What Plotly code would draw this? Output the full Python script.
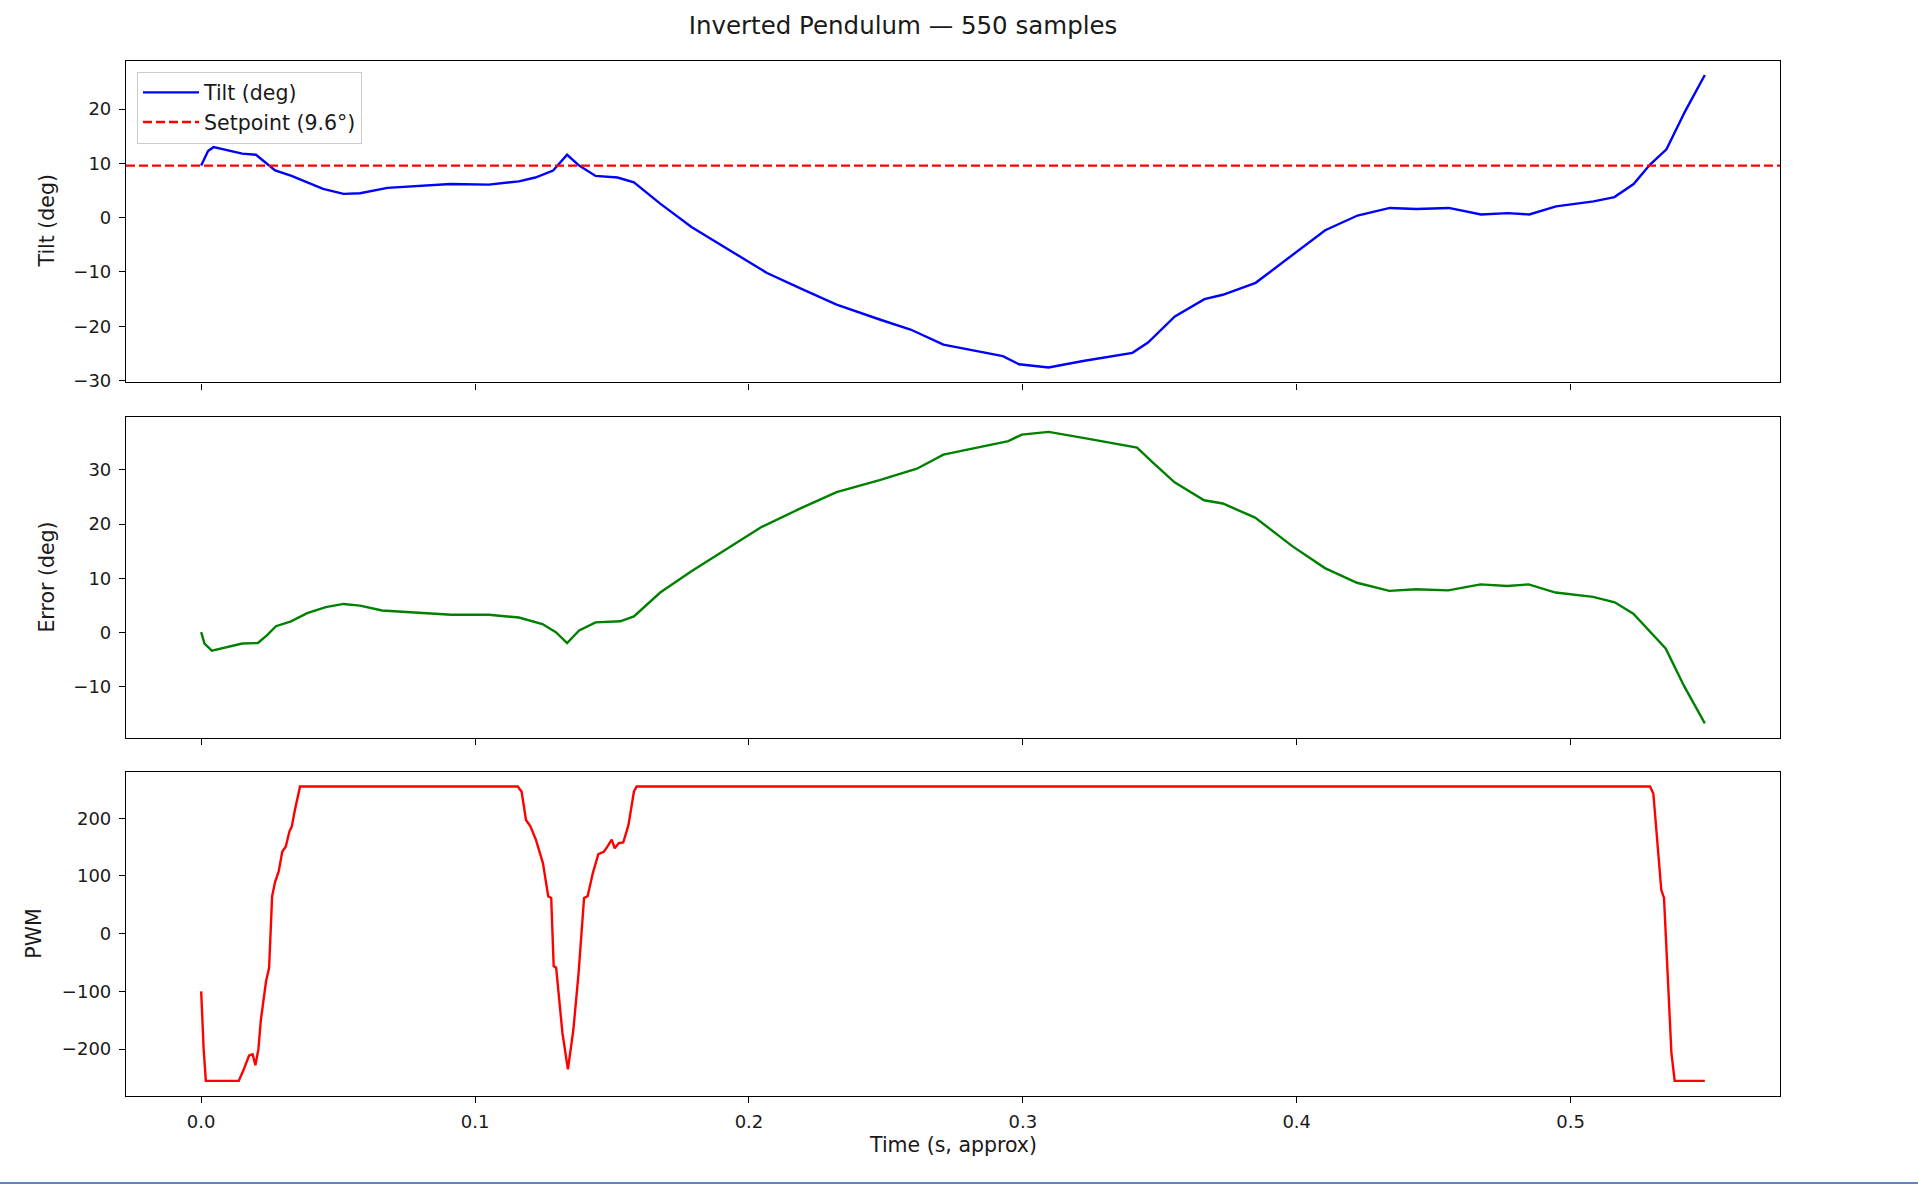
import plotly.graph_objects as go

# === DATOS ===
SETPOINT = 9.6
N_SAMPLES = 550

tilt_t = [0.000, 0.0025, 0.0045, 0.0094, 0.015, 0.020, 0.022, 0.027, 0.033, 0.0387,
          0.0445, 0.052, 0.058, 0.068, 0.080, 0.091, 0.105, 0.116, 0.122, 0.1285,
          0.1336, 0.138, 0.144, 0.152, 0.158, 0.1676, 0.179, 0.189, 0.2066, 0.220,
          0.232, 0.248, 0.259, 0.271, 0.283, 0.2927, 0.2986, 0.3094, 0.322, 0.332,
          0.340, 0.3457, 0.3555, 0.3663, 0.373, 0.385, 0.3967, 0.4104, 0.4222, 0.434,
          0.4437, 0.4555, 0.4673, 0.477, 0.4849, 0.4947, 0.5084, 0.516, 0.523, 0.529,
          0.535, 0.5418, 0.549]
tilt_deg = [9.6, 12.3, 13.0, 12.4, 11.8, 11.6, 10.8, 8.7, 7.7, 6.5,
            5.3, 4.4, 4.5, 5.5, 5.9, 6.2, 6.1, 6.7, 7.4, 8.7,
            11.6, 9.6, 7.7, 7.4, 6.5, 2.6, -1.7, -4.8, -10.2, -13.3,
            -16.0, -18.8, -20.6, -23.4, -24.6, -25.5, -27.0, -27.6, -26.4, -25.6,
            -24.9, -23.0, -18.2, -15.0, -14.2, -12.0, -7.5, -2.3, 0.4, 1.8,
            1.6, 1.8, 0.6, 0.85, 0.6, 2.1, 3.0, 3.8, 6.2, 9.8,
            12.6, 19.6, 26.3]

err_t = [0.000, 0.0012, 0.0039, 0.0094, 0.015, 0.0207, 0.024, 0.0273, 0.0328, 0.0387,
         0.0455, 0.052, 0.058, 0.066, 0.080, 0.0914, 0.105, 0.116, 0.1246, 0.1295,
         0.1336, 0.138, 0.144, 0.153, 0.158, 0.1676, 0.179, 0.191, 0.2047, 0.2184,
         0.232, 0.2477, 0.2613, 0.271, 0.283, 0.2947, 0.2996, 0.3094, 0.322, 0.3358,
         0.3417, 0.3476, 0.3554, 0.3662, 0.373, 0.3848, 0.3985, 0.4103, 0.422, 0.4338,
         0.4436, 0.4553, 0.4671, 0.4769, 0.4847, 0.4945, 0.5082, 0.5161, 0.5229, 0.5347,
         0.5415, 0.549]
err_deg = [0.1, -2.0, -3.3, -2.7, -2.0, -1.9, -0.5, 1.2, 2.1, 3.6,
           4.7, 5.3, 5.0, 4.1, 3.6, 3.3, 3.3, 2.8, 1.6, 0.1,
           -1.9, 0.4, 1.9, 2.1, 3.0, 7.4, 11.3, 15.1, 19.5, 22.8,
           25.9, 28.1, 30.2, 32.8, 34.1, 35.3, 36.5, 37.0, 35.9, 34.7,
           34.1, 31.3, 27.7, 24.4, 23.8, 21.2, 15.9, 11.9, 9.2, 7.7,
           8.0, 7.8, 8.9, 8.6, 8.9, 7.4, 6.6, 5.6, 3.5, -2.9,
           -9.9, -16.7]

pwm_t = [0.000, 0.0009, 0.0017, 0.0137, 0.0153, 0.0175, 0.0188, 0.0198, 0.0209, 0.0218,
         0.0237, 0.0248, 0.0259, 0.027, 0.0283, 0.0296, 0.0309, 0.0322, 0.0331, 0.0342,
         0.0361, 0.1156, 0.117, 0.1186, 0.1202, 0.1222, 0.1248, 0.1267, 0.1278, 0.1287,
         0.1296, 0.1319, 0.1339, 0.1359, 0.1378, 0.1398, 0.1411, 0.143, 0.145, 0.147,
         0.1482, 0.1499, 0.151, 0.1525, 0.1541, 0.156, 0.158, 0.159, 0.529, 0.5302,
         0.5317, 0.5331, 0.5341, 0.5353, 0.5368, 0.538, 0.549]
pwm_val = [-100, -200, -255, -255, -238, -211, -209, -228, -200, -149,
           -82, -59, 65, 90, 108, 142, 151, 177, 186, 214,
           255, 255, 246, 197, 186, 163, 122, 65, 62, -56,
           -59, -172, -235, -166, -68, 62, 65, 105, 138, 142,
           150, 163, 148, 157, 158, 188, 246, 255, 255, 243,
           157, 76, 62, -62, -206, -255, -255]

x_ticks = [0.0, 0.1, 0.2, 0.3, 0.4, 0.5]

# === FIGURA ===
W, H = 1918, 1194
FONT = 'DejaVu Sans'
TXT = '#1a1a1a'
LBL = 20.5
TICK = 18

def px(x):
    return x / W

def py(y):
    return 1 - y / H

fig = go.Figure()
fig.add_trace(go.Scatter(x=tilt_t, y=tilt_deg, mode='lines', name='Tilt (deg)',
                         line=dict(color='blue', width=2.4), xaxis='x', yaxis='y'))
# entrada de leyenda para la linea de consigna (la linea es un shape)
fig.add_trace(go.Scatter(x=[None], y=[None], mode='lines', name=f'Setpoint ({SETPOINT}°)',
                         line=dict(color='red', width=2.4, dash='9px,4px'), xaxis='x', yaxis='y'))
fig.add_trace(go.Scatter(x=err_t, y=err_deg, mode='lines', showlegend=False,
                         line=dict(color='green', width=2.4), xaxis='x2', yaxis='y2'))
fig.add_trace(go.Scatter(x=pwm_t, y=pwm_val, mode='lines', showlegend=False,
                         line=dict(color='red', width=2.4), xaxis='x3', yaxis='y3'))

fig.add_shape(type='line', xref='x domain', yref='y', x0=0, x1=1, y0=SETPOINT, y1=SETPOINT,
              line=dict(color='red', width=2.4, dash='9px,4px'))

# linea azul inferior de la captura
fig.add_shape(type='line', xref='paper', yref='paper', x0=0, x1=1, y0=py(1191), y1=py(1191),
              line=dict(color='#5b87c8', width=2))

xd = [px(126), px(1780)]
x_range = [-0.02745, 0.57645]
ax_common = dict(showline=True, mirror=True, linecolor='black', linewidth=1.2,
                 ticks='outside', ticklen=6, tickwidth=1.2, tickcolor='black',
                 showgrid=False, zeroline=False, ticklabelstandoff=4,
                 tickfont=dict(family=FONT, size=TICK, color=TXT))

def ydom(top, bottom):
    return [py(bottom), py(top)]

fig.update_layout(
    width=W, height=H,
    margin=dict(l=0, r=0, t=0, b=0),
    plot_bgcolor='white', paper_bgcolor='white',
    font=dict(family=FONT, size=TICK, color=TXT),
    title=dict(text=f'Inverted Pendulum — {N_SAMPLES} samples', x=px(903), xanchor='center',
               y=py(25), yanchor='middle', font=dict(family=FONT, size=24.5, color=TXT)),
    xaxis=dict(domain=xd, anchor='y', range=x_range, tickvals=x_ticks,
               showticklabels=False, **ax_common),
    xaxis2=dict(domain=xd, anchor='y2', range=x_range, tickvals=x_ticks, matches='x',
                showticklabels=False, **ax_common),
    xaxis3=dict(domain=xd, anchor='y3', range=x_range, tickvals=x_ticks, matches='x',
                tickformat='.1f', **ax_common),
    yaxis=dict(domain=ydom(61, 385), anchor='x', range=[-30.35, 28.95],
               tickvals=[-30, -20, -10, 0, 10, 20], **ax_common),
    yaxis2=dict(domain=ydom(420, 743), anchor='x2', range=[-19.4, 39.7],
                tickvals=[-10, 0, 10, 20, 30], **ax_common),
    yaxis3=dict(domain=ydom(777, 1103), anchor='x3', range=[-280.5, 280.5],
                tickvals=[-200, -100, 0, 100, 200], **ax_common),
    legend=dict(x=px(137), y=py(72), xanchor='left', yanchor='top',
                bgcolor='rgba(255,255,255,0.8)', bordercolor='#cccccc', borderwidth=1,
                itemwidth=56,
                font=dict(family=FONT, size=LBL, color=TXT), tracegroupgap=2),
    showlegend=True,
)

# titulos de ejes como anotaciones
def ylab(text, x_px, top, bottom):
    fig.add_annotation(text=text, xref='paper', yref='paper', x=px(x_px),
                       y=py((top + bottom) / 2), showarrow=False, textangle=-90,
                       xanchor='center', yanchor='middle',
                       font=dict(family=FONT, size=LBL, color=TXT))

ylab('Tilt (deg)', 47, 61, 385)
ylab('Error (deg)', 47, 420, 743)
ylab('PWM', 34, 777, 1103)
fig.add_annotation(text='Time (s, approx)', xref='paper', yref='paper', x=px(953),
                   y=py(1153), showarrow=False, xanchor='center', yanchor='middle',
                   font=dict(family=FONT, size=LBL, color=TXT))

# quitar el margen del body para que la figura ocupe la ventana exacta
fig.write_html('out.html', config={'displayModeBar': False},
               post_script="document.body.style.margin='0';"
                           "document.documentElement.style.overflow='hidden';")
